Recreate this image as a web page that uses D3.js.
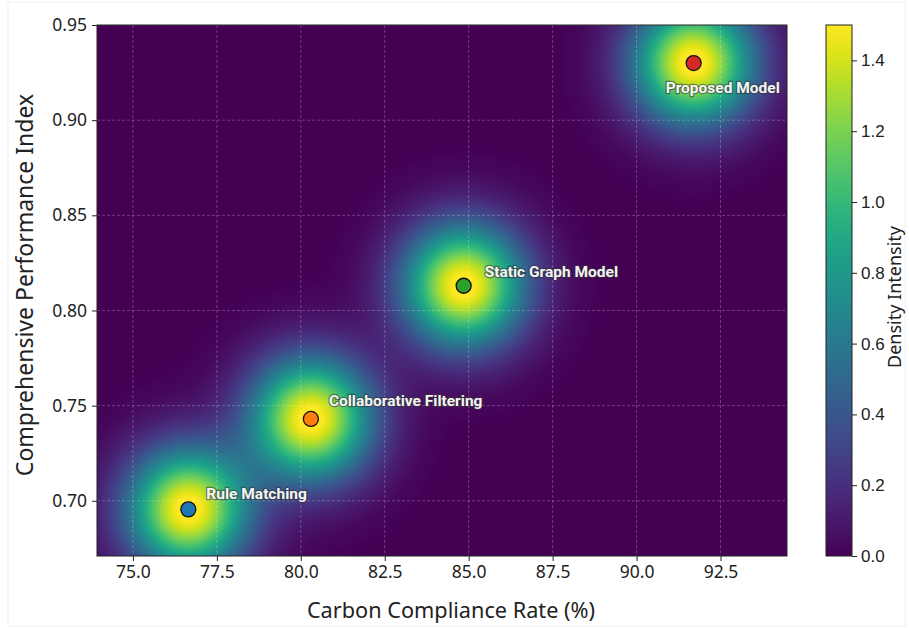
<!DOCTYPE html>
<html>
<head>
<meta charset="utf-8">
<script src="https://cdn.jsdelivr.net/npm/d3@7"></script>
<style>
  body { margin: 0; background: #fff; }
  svg { font-family: "Noto Sans", "Open Sans", sans-serif; }
</style>
</head>
<body>
<div id="root"></div>
<script>
// methods and their scores
const methods = ["Rule Matching", "Collaborative Filtering", "Static Graph Model", "Proposed Model"];
const compliance = [76.65, 80.3, 84.85, 91.7];
const performance = [0.6955, 0.743, 0.813, 0.93];
const pointColors = ["#1f77b4", "#ff7f0e", "#2ca02c", "#d62728"];

const xTicks = [75.0, 77.5, 80.0, 82.5, 85.0, 87.5, 90.0, 92.5];
const yTicks = [0.70, 0.75, 0.80, 0.85, 0.90, 0.95];
const cbTicks = [0.0, 0.2, 0.4, 0.6, 0.8, 1.0, 1.2, 1.4];

// label placement relative to the point (px)
const labelOffsets = [[18, -10], [18, -13], [21, -9], [-28, 30]];

const outerWidth = 909;
const outerHeight = 628;
const margin = { top: 25, left: 97, right: 122, bottom: 72 };
const width = outerWidth - margin.left - margin.right;
const height = outerHeight - margin.top - margin.bottom;

const scaleX = d3.scaleLinear().domain([73.93, 94.48]).range([0, width]);
const scaleY = d3.scaleLinear().domain([0.671, 0.95]).range([height, 0]);

const peak = 1.55, sx = 1.25, sy = 0.0221;
const vmax = 1.5;

function density(x, y) {
    let s = 0;
    for (let i = 0; i < methods.length; i++) {
        let dx = (x - compliance[i]) / sx, dy = (y - performance[i]) / sy;
        s += peak * Math.exp(-0.5 * (dx * dx + dy * dy));
    }
    return s;
}

// heatmap drawn to canvas, then placed in the svg
const canvas = document.createElement("canvas");
canvas.width = width;
canvas.height = height;
const ctx = canvas.getContext("2d");
const img = ctx.createImageData(width, height);
for (let py = 0; py < height; py++) {
    let y = scaleY.invert(py + 0.5);
    for (let px = 0; px < width; px++) {
        let x = scaleX.invert(px + 0.5);
        let c = d3.rgb(d3.interpolateViridis(Math.min(density(x, y) / vmax, 1)));
        let k = (py * width + px) * 4;
        img.data[k] = c.r; img.data[k + 1] = c.g; img.data[k + 2] = c.b; img.data[k + 3] = 255;
    }
}
ctx.putImageData(img, 0, 0);

const svg = d3.select("#root").append("svg")
    .attr("width", outerWidth)
    .attr("height", outerHeight);

svg.append("rect")
    .attr("x", 8).attr("y", 2)
    .attr("width", outerWidth - 12).attr("height", outerHeight - 4)
    .attr("fill", "none").attr("stroke", "#f0f0f0");

const chart = svg.append("g")
    .attr("transform", `translate(${margin.left}, ${margin.top})`);

chart.append("image")
    .attr("width", width).attr("height", height)
    .attr("preserveAspectRatio", "none")
    .attr("href", canvas.toDataURL());

// grid
chart.append("g").selectAll("line").data(xTicks).join("line")
    .attr("x1", d => scaleX(d)).attr("x2", d => scaleX(d))
    .attr("y1", 0).attr("y2", height)
    .attr("stroke", "#fff").attr("stroke-opacity", 0.3)
    .attr("stroke-width", 0.8).attr("stroke-dasharray", "3,2");
chart.append("g").selectAll("line").data(yTicks).join("line")
    .attr("y1", d => scaleY(d)).attr("y2", d => scaleY(d))
    .attr("x1", 0).attr("x2", width)
    .attr("stroke", "#fff").attr("stroke-opacity", 0.3)
    .attr("stroke-width", 0.8).attr("stroke-dasharray", "3,2");

chart.append("rect")
    .attr("width", width).attr("height", height)
    .attr("fill", "none").attr("stroke", "#222").attr("stroke-width", 1);

// axes
let xAxis = d3.axisBottom(scaleX).tickValues(xTicks).tickFormat(d3.format(".1f")).tickSize(5).tickPadding(5);
let yAxis = d3.axisLeft(scaleY).tickValues(yTicks).tickFormat(d3.format(".2f")).tickSize(5).tickPadding(5);

chart.append("g").attr("class", "x axis")
    .attr("transform", `translate(0, ${height})`)
    .call(xAxis);
chart.append("g").attr("class", "y axis")
    .call(yAxis);

svg.selectAll(".axis .domain").remove();
svg.selectAll(".axis text").attr("font-size", 17.5).attr("fill", "#222").attr("font-family", "Noto Sans, Open Sans, sans-serif");
svg.selectAll(".axis line").attr("stroke", "#222");

// points
const pts = chart.append("g").selectAll("g").data(methods).join("g");
pts.append("circle")
    .attr("cx", (d, i) => scaleX(compliance[i]))
    .attr("cy", (d, i) => scaleY(performance[i]))
    .attr("r", 7.5)
    .attr("fill", (d, i) => pointColors[i])
    .attr("stroke", "#111").attr("stroke-width", 1.3);
pts.append("text")
    .attr("x", (d, i) => scaleX(compliance[i]) + labelOffsets[i][0])
    .attr("y", (d, i) => scaleY(performance[i]) + labelOffsets[i][1])
    .attr("font-family", "Roboto, sans-serif")
    .attr("font-size", 15.5).attr("font-weight", "bold")
    .attr("fill", "#f4f4f4")
    .attr("stroke", "#333").attr("stroke-width", 2.5).attr("stroke-opacity", 0.55)
    .attr("paint-order", "stroke")
    .text(d => d);

// axis titles
svg.append("text")
    .attr("x", 451)
    .attr("y", 618)
    .attr("text-anchor", "middle")
    .attr("font-size", 21.7).attr("fill", "#222")
    .text("Carbon Compliance Rate (%)");

svg.append("text")
    .attr("transform", "rotate(-90)")
    .attr("x", -285)
    .attr("y", 33)
    .attr("text-anchor", "middle")
    .attr("font-size", 23).attr("fill", "#222")
    .text("Comprehensive Performance Index");

// colorbar
const cbX = 826, cbW = 26;
const cbScale = d3.scaleLinear().domain([0, vmax]).range([margin.top + height, margin.top]);
const defs = svg.append("defs");
const grad = defs.append("linearGradient").attr("id", "cbgrad")
    .attr("x1", 0).attr("y1", 1).attr("x2", 0).attr("y2", 0);
d3.range(0, 1.0001, 0.05).forEach(t => {
    grad.append("stop").attr("offset", t).attr("stop-color", d3.interpolateViridis(t));
});
svg.append("rect")
    .attr("x", cbX).attr("y", margin.top)
    .attr("width", cbW).attr("height", height)
    .attr("fill", "url(#cbgrad)")
    .attr("stroke", "#222").attr("stroke-width", 1);

let cbAxis = d3.axisRight(cbScale).tickValues(cbTicks).tickFormat(d3.format(".1f")).tickSize(5).tickPadding(4);
svg.append("g").attr("class", "cb axis")
    .attr("transform", `translate(${cbX + cbW}, 0)`)
    .call(cbAxis);
svg.selectAll(".cb .domain").remove();
svg.selectAll(".cb text").attr("font-size", 17).attr("fill", "#222");
svg.selectAll(".cb line").attr("stroke", "#222");

svg.append("text")
    .attr("transform", "rotate(-90)")
    .attr("x", -297)
    .attr("y", 901)
    .attr("text-anchor", "middle")
    .attr("font-size", 18).attr("fill", "#222")
    .text("Density Intensity");
</script>
</body>
</html>
